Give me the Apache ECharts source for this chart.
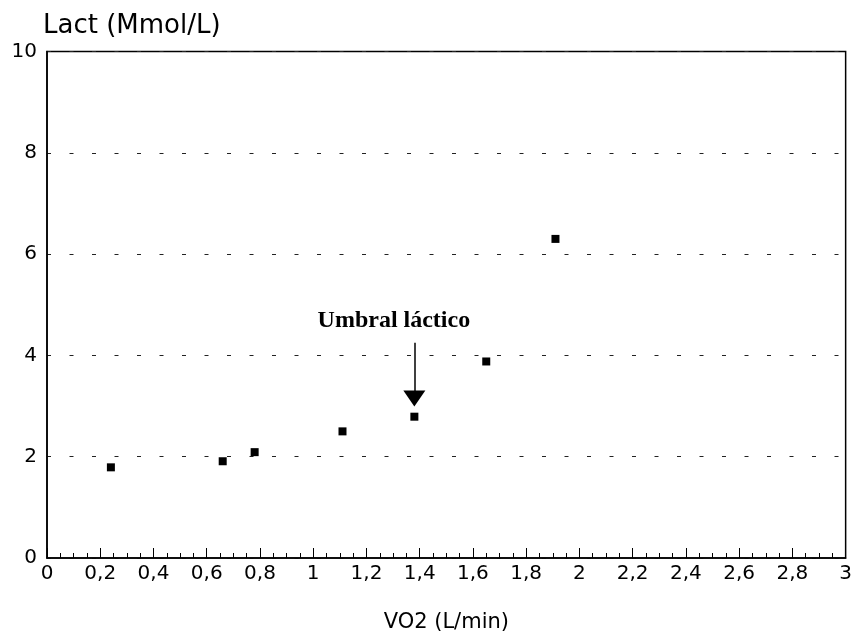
<!DOCTYPE html>
<html>
<head>
<meta charset="utf-8">
<script src="https://cdn.jsdelivr.net/npm/echarts@6/dist/echarts.min.js"></script>
<style>html,body{margin:0;padding:0;background:#fff;}#c{width:855px;height:643px;}</style>
</head>
<body>
<div id="c"></div>
<script>
var vo2 = [0.24, 0.66, 0.78, 1.11, 1.38, 1.65, 1.91];
var lact = [1.79, 1.91, 2.09, 2.5, 2.79, 3.88, 6.3];
var xTicks = [0, 0.2, 0.4, 0.6, 0.8, 1, 1.2, 1.4, 1.6, 1.8, 2, 2.2, 2.4, 2.6, 2.8, 3];
var yTicks = [0, 2, 4, 6, 8, 10];
var annotationText = 'Umbral láctico';
var arrowX = 1.38, arrowTop = 4.25, arrowTip = 3.15;
var labelPos = [1.303, 4.68];

var points = vo2.map(function (v, i) { return [v, lact[i]]; });
var chart = echarts.init(document.getElementById('c'));
var font = 'DejaVu Sans, sans-serif';
chart.setOption({
  animation: false,
  backgroundColor: '#fff',
  grid: { left: 47, right: 9, top: 51.5, bottom: 85, show: true, borderColor: '#000', borderWidth: 1.5, backgroundColor: 'transparent' },
  xAxis: {
    type: 'value', min: 0, max: 3, interval: 0.2,
    name: 'VO2 (L/min)', nameLocation: 'middle', nameGap: 54,
    nameTextStyle: { fontFamily: font, fontSize: 21, color: '#000' },
    axisLine: { lineStyle: { color: '#000', width: 1.5 } },
    axisTick: { inside: true, length: 10, lineStyle: { color: '#000', width: 1 } },
    minorTick: { show: true, splitNumber: 4, length: 5, lineStyle: { color: '#000', width: 1 } },
    axisLabel: {
      fontFamily: font, fontSize: 20, color: '#000', margin: 6,
      formatter: function (v) { return String(Math.round(v * 10) / 10).replace('.', ','); }
    },
    splitLine: { show: false }
  },
  yAxis: {
    type: 'value', min: 0, max: 10, interval: 2,
    name: 'Lact (Mmol/L)', nameLocation: 'end', nameGap: 12,
    nameTextStyle: { fontFamily: font, fontSize: 26, color: '#000', align: 'left', padding: [0, 0, 0, -4] },
    axisLine: { show: true, lineStyle: { color: '#000', width: 1.5 } },
    axisTick: { show: false },
    axisLabel: { fontFamily: font, fontSize: 20, color: '#000', margin: 10 },
    splitLine: { show: true, lineStyle: { color: '#222', width: 1, type: [4, 18.5] } }
  },
  series: [{
    type: 'scatter',
    data: points,
    symbol: 'rect',
    symbolSize: 8,
    itemStyle: { color: '#000', opacity: 1 },
    markLine: {
      silent: true,
      symbol: ['none', 'triangle'],
      symbolSize: [22, 16],
      lineStyle: { color: '#000', width: 1.5, type: 'solid', opacity: 1 },
      label: { show: false },
      data: [[{ coord: [arrowX, arrowTop] }, { coord: [arrowX, arrowTip] }]]
    },
    markPoint: {
      silent: true,
      symbol: 'circle',
      symbolSize: 1,
      itemStyle: { color: 'rgba(0,0,0,0)' },
      label: {
        show: true, position: 'inside',
        fontFamily: 'Liberation Serif, Times New Roman, serif', fontWeight: 'bold', fontSize: 24, color: '#000'
      },
      data: [{ coord: labelPos, value: annotationText, label: { formatter: annotationText } }]
    }
  }]
});
</script>
</body>
</html>
